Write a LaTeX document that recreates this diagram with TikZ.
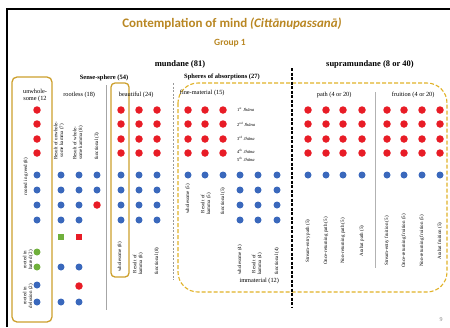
\documentclass[tikz,border=0pt]{standalone}
\usepackage{fontspec}
\setmainfont{Liberation Serif}
\newfontfamily\titlefont{Carlito}
\usetikzlibrary{positioning}
\definecolor{titlegold}{RGB}{185,135,35}
\definecolor{boxgold}{RGB}{205,160,45}
\definecolor{dashgold}{RGB}{225,178,40}
\definecolor{dotred}{RGB}{232,28,38}
\definecolor{dotblue}{RGB}{58,104,188}
\definecolor{dotgreen}{RGB}{112,176,60}

\begin{document}
\begin{tikzpicture}[x = 1pt, y = -1pt,
    reddot/.style = { circle, fill = dotred, inner sep = 0pt, minimum size = 7.5pt },
    bluedot/.style = { circle, fill = dotblue, inner sep = 0pt, minimum size = 7pt },
    greendot/.style = { circle, fill = dotgreen, inner sep = 0pt, minimum size = 7pt },
    sqr/.style = { rectangle, inner sep = 0pt, minimum size = 6.5pt },
    head/.style = { font = \fontsize{8.5}{10}\selectfont\bfseries },
    subhead/.style = { font = \fontsize{6.5}{8}\selectfont\bfseries },
    lbl/.style = { font = \fontsize{6.3}{7}\selectfont, inner sep = 0pt, align = center },
    jh/.style = { font = \fontsize{4.5}{5}\selectfont, anchor = west, inner sep = 0pt },
    vlbl/.style = { font = \fontsize{5}{5.6}\selectfont, rotate = 90, align = center, inner sep = 0pt }]

  \useasboundingbox (0,0) rectangle (450,327);
  \draw [line width = 1.5pt] (7,327) -- (7,9) -- (450,9);

  \node (title) at (232,24) { \titlefont\bfseries\fontsize{13}{15}\selectfont\color{titlegold}Contemplation of mind \textit{(Cittānupassanā)} };
  \node (group) at (230,43) { \titlefont\bfseries\fontsize{9.5}{11}\selectfont\color{titlegold}Group 1 };

  \node [head] (mund) at (180,64) { mundane (81) };
  \node [head] (supra) at (370,64) { supramundane (8 or 40) };
  \node [subhead] (sense) at (104,78) { Sense-sphere (54) };
  \node [subhead] (absorb) at (222,77) { Spheres of absorptions (27) };

  \draw [boxgold, line width = 1.3pt, rounded corners = 5pt] (12,77) rectangle (52,322);
  \draw [boxgold, line width = 1.3pt, rounded corners = 4pt] (111,83) rectangle (129,277);
  \draw [dashgold, line width = 1.1pt, dash pattern = on 4pt off 2pt, rounded corners = 20pt] (178,83) rectangle (447,292);
  \draw [gray!70, line width = .6pt] (106,85) -- (106,310);
  \draw [gray!80, line width = .8pt, dash pattern = on 2pt off 1.5pt] (173,83) -- (173,280);
  \draw [gray!60, line width = .5pt] (375,92) -- (375,268);
  \draw [line width = 2pt, dash pattern = on 3pt off 1.5pt] (292,68) -- (292,307);

  \node [lbl] (unwh) at (35,95) { unwhole-\\some (12 };
  \node [lbl] (rootl) at (80,95) { rootless (18) };
  \node [lbl] (beaut) at (137,95) { beautiful (24) };
  \node [lbl] (finem) at (203,93) { fine-material (15) };
  \node [lbl] (immat) at (260,281) { immaterial (12) };
  \node [lbl] (path) at (335,95) { path (4 or 20) };
  \node [lbl] (fruit) at (414,95) { fruition (4 or 20) };

  \foreach \y [count = \i] in {110,124,139,153} {
    \node [reddot] (u-r\i) at (37,\y) {};
    \foreach \x [count = \j] in {121,139,157,188,205,223,308,326,343,362,387,404,422,440}
      \node [reddot] (r\i-\j) at (\x,\y) {};
  }
  \foreach \x [count = \j] in {37,61,79,121,139,157,240,258,277}
    \foreach \y [count = \i] in {175,190,205,220}
      \node [bluedot] (b\i-\j) at (\x,\y) {};
  \foreach \x [count = \j] in {188,205,223,308,326,343,362,387,404,422,440}
    \node [bluedot] (top-b\j) at (\x,175) {};
  \node [bluedot] (fn-b1) at (97,175) {};
  \node [bluedot] (fn-b2) at (97,190) {};
  \node [reddot] (fn-red) at (97,205) {};
  \node [sqr, fill = dotgreen] (sq-g) at (61,237) {};
  \node [sqr, fill = dotred] (sq-r) at (79,237) {};
  \node [greendot] (g1) at (37,252) {};
  \node [greendot] (g2) at (37,267) {};
  \node [bluedot] (rb1) at (61,267) {};
  \node [bluedot] (rb2) at (79,267) {};
  \node [bluedot] (d1) at (37,285) {};
  \node [reddot] (rr1) at (79,286) {};
  \node [bluedot] (d2) at (37,302) {};
  \node [bluedot] (rb3) at (61,302) {};
  \node [bluedot] (rb4) at (79,302) {};

  \node [jh] (j1) at (237,110) { 1\textsuperscript{st} \textit{Jhāna} };
  \node [jh] (j2) at (237,124) { 2\textsuperscript{nd} \textit{Jhāna} };
  \node [jh] (j3) at (237,138) { 3\textsuperscript{rd} \textit{Jhāna} };
  \node [jh] (j4) at (237,151) { 4\textsuperscript{th} \textit{Jhāna} };
  \node [jh] (j5) at (237,159) { 5\textsuperscript{th} \textit{Jhāna} };

  \node [vlbl] (greed) at (26,176) { rooted in greed (8) };
  \node [vlbl] (hatred) at (28,260) { rooted in\\hatred (2) };
  \node [vlbl] (delus) at (28,296) { rooted in\\delusion (2) };

  \node [vlbl, anchor = west] (rk7) at (59,160) { Result of unwhole-\\some kamma (7) };
  \node [vlbl, anchor = west] (rk8) at (78,160) { Result of whole-\\some kamma (8) };
  \node [vlbl, anchor = west] (fn3) at (97,160) { functional (3) };

  \node [vlbl, anchor = west] (wh8) at (120,272) { wholesome (8) };
  \node [vlbl, anchor = west] (kb8) at (138,275) { Result of\\kamma (8) };
  \node [vlbl, anchor = west] (fb8) at (157,275) { functional (8) };

  \node [vlbl, anchor = west] (wh5) at (188,214) { wholesome (5) };
  \node [vlbl, anchor = west] (kb5) at (206,215) { Result of\\kamma (5) };
  \node [vlbl, anchor = west] (fb5) at (223,215) { functional (5) };

  \node [vlbl, anchor = west] (wh4) at (240,275) { wholesome (4) };
  \node [vlbl, anchor = west] (kb4) at (257,275) { Result of\\kamma (4) };
  \node [vlbl, anchor = west] (fb4) at (277,275) { functional (4) };

  \foreach \x/\t [count = \k] in {308/Stream-entry path (5), 326/Once-returning path (5),
      343/Non-returning path (5), 362/Arahat path (5), 387/Stream-entry fruition (5),
      404/Once-returning fruition (5), 422/Non-returning fruition (5), 440/Arahat fruition (5)}
    \node [vlbl] (sp\k) at (\x,241) { \t };

  \node [font = \fontsize{6}{7}\selectfont, text = gray] (pg) at (441,320) { 9 };
\end{tikzpicture}
\end{document}
